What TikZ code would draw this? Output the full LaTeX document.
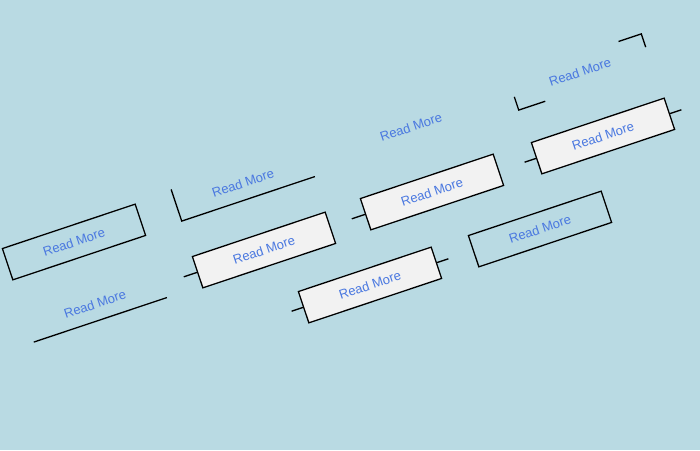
\documentclass[tikz,border=0pt]{standalone}
\usepackage{fontspec}
\setmainfont{Liberation Sans}
\usetikzlibrary{calc}
\definecolor{bg}{HTML}{B9DAE3}
\definecolor{txt}{HTML}{4A78E0}
\definecolor{fillc}{HTML}{F2F2F2}
\tikzset{
  btn/.style={minimum width=140pt, minimum height=33pt, inner sep=0pt, rotate=18.5, text=txt, font=\fontsize{13}{13}\selectfont},
  full/.style={btn, draw=black, line width=1.3pt},
  filled/.style={full, fill=fillc},
  ln/.style={black, line width=1.3pt}
}
\begin{document}
\begin{tikzpicture}[x=1pt,y=1pt]
\fill[bg] (0,0) rectangle (700,450);
\useasboundingbox (0,0) rectangle (700,450);
% 1 outline
\node[full] (b1) at (74,208) {Read More};
% 2 underline
\node[btn] (b2) at (95,146) {Read More};
\draw[ln] (b2.south west) -- (b2.south east);
% 3 L bracket
\node[btn] (b3) at (243,267) {Read More};
\draw[ln] (b3.north west) -- (b3.south west) -- (b3.south east);
% 4 filled, left stub
\node[filled] (b4) at (264,200) {Read More};
\draw[ln] (b4.west) -- ($(b4.west)!-14pt!(b4.east)$);
% 5 text only
\node[btn] (b5) at (411,323) {Read More};
% 6 filled, left stub
\node[filled] (b6) at (432,258) {Read More};
\draw[ln] (b6.west) -- ($(b6.west)!-14pt!(b6.east)$);
% 7 filled, both stubs
\node[filled] (b7) at (370,165) {Read More};
\draw[ln] (b7.west) -- ($(b7.west)!-12pt!(b7.east)$);
\draw[ln] (b7.east) -- ($(b7.east)!-12pt!(b7.west)$);
% 8 outline
\node[full] (b8) at (540,221) {Read More};
% 9 corners
\node[btn] (b9) at (580,378) {Read More};
\draw[ln] ($(b9.north east)!24pt!(b9.north west)$) -- (b9.north east) -- ($(b9.north east)!14pt!(b9.south east)$);
\draw[ln] ($(b9.south west)!14pt!(b9.north west)$) -- (b9.south west) -- ($(b9.south west)!28pt!(b9.south east)$);
% 10 filled, both stubs
\node[filled] (b10) at (603,314) {Read More};
\draw[ln] (b10.west) -- ($(b10.west)!-12pt!(b10.east)$);
\draw[ln] (b10.east) -- ($(b10.east)!-12pt!(b10.west)$);
\end{tikzpicture}
\end{document}
